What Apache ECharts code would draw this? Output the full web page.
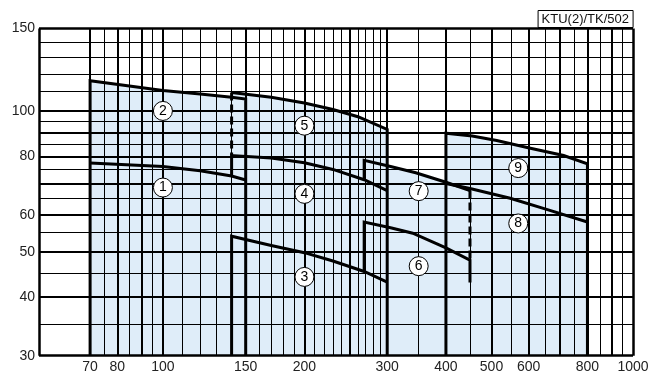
<!DOCTYPE html>
<html><head><meta charset="utf-8">
<script src="https://cdn.jsdelivr.net/npm/echarts@6/dist/echarts.min.js"></script>
<style>html,body{margin:0;padding:0;background:#fff}#c{width:664px;height:383px}</style>
</head><body><div id="c"></div>
<script>
// axis ranges and tick labels
const xMin = 54.5, xMax = 1000, yMin = 30, yMax = 150;
const xLabels = [70, 80, 100, 150, 200, 300, 400, 500, 600, 800, 1000];
const yLabels = [30, 40, 50, 60, 80, 100, 150];
const xMajor = [70, 80, 90, 100, 150, 200, 250, 300, 400, 500, 600, 700, 800, 900];
const xMinor = [75, 85, 95, 110, 120, 130, 140, 160, 170, 180, 190, 210, 220, 230, 240, 260, 270, 280, 290, 350, 450, 550, 650, 750, 850, 950];
const yMajor = [40, 50, 60, 70, 80, 90, 100];
const yMinor = [35, 45, 55, 65, 75, 85, 95, 110, 120, 130, 140];

// curves (x, y)
const curve1 = [[70, 77.4], [100, 76.1], [120, 74.5], [140, 72.6], [150, 71.2]];
const curve2 = [[70, 116], [100, 110.6], [120, 108.7], [140, 107], [150, 106]];
const curve3 = [[140, 54], [170, 51.6], [200, 49.8], [230, 47.8], [268, 45.4], [300, 43.1]];
const curve4 = [[140, 80.3], [170, 79.3], [200, 77.5], [230, 75], [268, 71.3], [300, 67.6]];
const curve5 = [[140, 109.5], [170, 107], [200, 104], [230, 100.7], [260, 97.2], [300, 91.3]];
const curve6 = [[268, 57.9], [305, 56.3], [340, 54.8], [400, 51], [450, 48]];
const curve7 = [[268, 78.4], [305, 76.1], [345, 73.8], [400, 70.4], [450, 67.6]];
const curve8 = [[400, 70], [450, 68.3], [548, 65.1], [655, 61.6], [800, 57.9]];
const curve9 = [[400, 89.6], [455, 88.4], [513, 86.5], [605, 83.2], [712, 80.3], [800, 77.1]];
const curve6Tail = 43;

// circled labels
const markNames = ['1', '2', '3', '4', '5', '6', '7', '8', '9'];
const markX = [100, 100, 200, 200, 200, 350, 350, 570, 570];
const markY = [68.6, 100, 44.2, 66.5, 93, 46.6, 67.4, 57.5, 75.5];

const first = c => c[0], last = c => c[c.length - 1];
const yAt = (c, x) => c.find(p => p[0] === x)[1];

const outlines = [
  { data: [[first(curve2)[0], yMin], ...curve2, [last(curve2)[0], yMin]] },
  { data: curve1 },
  { data: [[first(curve5)[0], first(curve5)[1]], [first(curve4)[0], first(curve4)[1]]], dashed: true },
  { data: [...curve5, [last(curve5)[0], yMin]] },
  { data: [[first(curve4)[0], yAt(curve1, first(curve4)[0])], ...curve4] },
  { data: [[first(curve3)[0], yMin], ...curve3] },
  { data: [[first(curve7)[0], yAt(curve4, first(curve7)[0])], ...curve7] },
  { data: [[last(curve7)[0], last(curve7)[1]], [last(curve6)[0], last(curve6)[1]]], dashed: true },
  { data: [[first(curve6)[0], yAt(curve3, first(curve6)[0])], ...curve6, [last(curve6)[0], curve6Tail]] },
  { data: [[first(curve9)[0], yMin], ...curve9, [last(curve9)[0], yMin]] },
  { data: curve8 }
];

const gridMarks = [
  ...xMajor.map(v => ({ xAxis: v, lineStyle: { width: 2 } })),
  ...xMinor.map(v => ({ xAxis: v, lineStyle: { width: 1 } })),
  ...yMajor.map(v => ({ yAxis: v, lineStyle: { width: 2 } })),
  ...yMinor.map(v => ({ yAxis: v, lineStyle: { width: 1 } })),
  { xAxis: xMin, lineStyle: { width: 2.5 } }, { xAxis: xMax, lineStyle: { width: 2.5 } },
  { yAxis: yMin, lineStyle: { width: 2.5 } }, { yAxis: yMax, lineStyle: { width: 2.5 } }
];

const FILL = '#dfedf9';
const fills = [curve2, curve5, curve7, curve9].map((c, i) => ({
  type: 'line', data: c, showSymbol: false, z: 2, silent: true,
  lineStyle: { width: 0 }, areaStyle: { color: FILL, opacity: 1, origin: 'start' },
  markLine: i === 0 ? {
    symbol: ['none', 'none'], silent: true, animation: false,
    label: { show: false }, lineStyle: { color: '#000', type: 'solid' },
    emphasis: { disabled: true }, data: gridMarks
  } : undefined
}));

const lines = outlines.map(o => ({
  type: 'line', data: o.data, showSymbol: false, z: 6, silent: true,
  lineStyle: { color: '#000', width: 3, type: o.dashed ? [8, 4] : 'solid', join: 'miter', cap: 'butt' }
}));

const labelStyle = { fontSize: 14, color: '#222', fontFamily: 'Liberation Sans', showMinLabel: true, showMaxLabel: true, hideOverlap: false, formatter: v => String(v) };

const chart = echarts.init(document.getElementById('c'), null, { renderer: 'canvas' });
chart.setOption({
  animation: false,
  backgroundColor: '#fff',
  title: {
    text: 'KTU(2)/TK/502', right: 31, top: 10, padding: [2, 4, 1, 4],
    borderColor: '#000', borderWidth: 1,
    textStyle: { fontSize: 13, fontWeight: 'normal', color: '#111', fontFamily: 'Liberation Sans', lineHeight: 15 }
  },
  grid: { left: 39, right: 31, top: 28.5, bottom: 27.3, containLabel: false },
  xAxis: {
    type: 'log', logBase: 10, min: xMin, max: xMax,
    axisLine: { show: false }, axisTick: { show: false }, splitLine: { show: false },
    axisLabel: Object.assign({ customValues: xLabels, margin: 4 }, labelStyle)
  },
  yAxis: {
    type: 'log', logBase: 10, min: yMin, max: yMax,
    axisLine: { show: false }, axisTick: { show: false }, splitLine: { show: false },
    axisLabel: Object.assign({ customValues: yLabels, margin: 4 }, labelStyle)
  },
  series: [
    ...fills,
    ...lines,
    {
      type: 'scatter', z: 7, silent: true,
      data: markNames.map((n, i) => [markX[i], markY[i], n]),
      symbol: 'circle', symbolSize: 19,
      itemStyle: { color: '#fff', borderColor: '#000', borderWidth: 1, opacity: 1 },
      label: { show: true, position: 'inside', formatter: p => p.data[2], color: '#000', fontSize: 14, fontFamily: 'Liberation Sans' }
    }
  ]
});
</script>
</body></html>
